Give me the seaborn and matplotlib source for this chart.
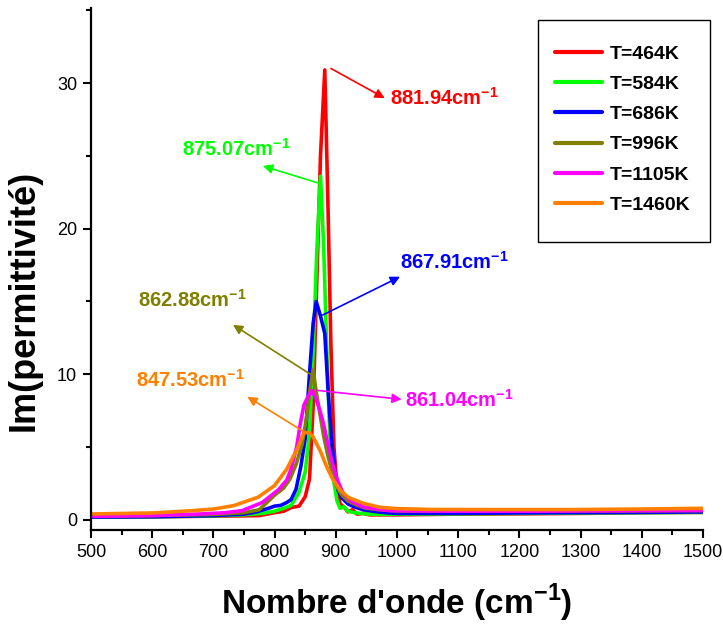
import numpy as np
import pandas as pd
import matplotlib
matplotlib.use("Agg")
import matplotlib.pyplot as plt
from matplotlib.ticker import MultipleLocator
from matplotlib.patches import Rectangle
import seaborn as sns

# ---------------- data ----------------
wn_464 = [500, 550, 600, 650, 700, 750, 775, 800, 815, 827, 840, 850, 857, 863, 869, 875, 882, 887, 892, 897, 902,
          907, 913, 920, 927, 935, 945, 955, 970, 1000, 1100, 1200, 1300, 1400, 1500]
eps_464 = [0.2, 0.2, 0.22, 0.24, 0.26, 0.28, 0.3, 0.5, 0.6, 0.85, 0.95, 1.6, 2.8, 7.8, 16.5, 25.0, 30.9, 22.0, 12.0, 5.0, 2.2,
           1.1, 0.9, 0.55, 0.7, 0.4, 0.45, 0.35, 0.35, 0.35, 0.4, 0.42, 0.45, 0.5, 0.52]

wn_584 = [500, 600, 700, 750, 780, 800, 815, 827, 840, 850, 857, 863, 869, 875, 880, 885, 890, 896, 902, 907, 913,
          920, 930, 940, 955, 980, 1000, 1100, 1200, 1300, 1400, 1500]
eps_584 = [0.2, 0.22, 0.28, 0.35, 0.45, 0.6, 0.8, 1.0, 1.9, 3.3, 6.0, 11.5, 18.5, 23.6, 19.0, 12.0, 6.0, 2.8, 1.3, 0.8, 0.9,
           0.6, 0.5, 0.45, 0.4, 0.38, 0.4, 0.42, 0.45, 0.48, 0.5, 0.52]

wn_686 = [500, 600, 700, 750, 770, 790, 800, 810, 820, 827, 835, 843, 850, 857, 863, 868, 875, 882, 888, 893, 898,
          904, 910, 920, 930, 945, 960, 980, 1000, 1100, 1200, 1300, 1400, 1500]
eps_686 = [0.2, 0.22, 0.3, 0.4, 0.55, 0.8, 0.95, 1.0, 1.2, 1.4, 2.1, 3.7, 5.6, 10.0, 13.5, 15.0, 14.0, 12.8, 8.5, 5.5, 3.5,
           2.0, 1.5, 1.1, 0.9, 0.7, 0.6, 0.5, 0.45, 0.45, 0.48, 0.5, 0.52, 0.55]

wn_996 = [500, 600, 700, 750, 775, 800, 815, 825, 835, 845, 852, 858, 863, 868, 874, 880, 886, 892, 900, 910, 920,
          935, 950, 970, 1000, 1100, 1200, 1300, 1400, 1500]
eps_996 = [0.25, 0.3, 0.38, 0.5, 0.7, 1.7, 2.2, 2.8, 3.8, 5.2, 7.0, 9.0, 10.3, 8.8, 7.3, 5.8, 4.6, 3.6, 2.4, 1.7, 1.3,
           1.0, 0.8, 0.7, 0.62, 0.6, 0.6, 0.62, 0.63, 0.65]

wn_1105 = [500, 600, 680, 720, 747, 780, 807, 820, 827, 836, 842, 848, 855, 861, 868, 874, 880, 888, 896, 904, 912,
           925, 945, 965, 987, 1020, 1100, 1200, 1300, 1400, 1500]
eps_1105 = [0.25, 0.3, 0.41, 0.5, 0.64, 1.2, 2.1, 2.75, 3.5, 5.0, 6.6, 7.9, 8.5, 8.9, 8.3, 7.5, 6.6, 5.0, 3.66, 2.6, 1.83,
            1.3, 0.9, 0.75, 0.64, 0.62, 0.6, 0.6, 0.62, 0.64, 0.65]

wn_1460 = [500, 600, 667, 700, 733, 773, 800, 820, 836, 848, 856, 863, 875, 885, 895, 907, 920, 945, 972, 1000, 1054,
           1150, 1280, 1400, 1500]
eps_1460 = [0.41, 0.48, 0.64, 0.75, 0.98, 1.56, 2.36, 3.5, 4.8, 6.0, 6.0, 5.7, 4.7, 3.66, 2.8, 2.06, 1.56, 1.14, 0.87,
            0.78, 0.72, 0.71, 0.71, 0.75, 0.8]

labels = ["T=464K", "T=584K", "T=686K", "T=996K", "T=1105K", "T=1460K"]
colors = ["#FF0000", "#00FF00", "#0000FF", "#808000", "#FF00FF", "#FF8000"]
peak_labels = ["881.94", "875.07", "867.91", "862.88", "861.04", "847.53"]

series = [(wn_464, eps_464), (wn_584, eps_584), (wn_686, eps_686),
          (wn_996, eps_996), (wn_1105, eps_1105), (wn_1460, eps_1460)]

frames = []
for lab, (w, e) in zip(labels, series):
    frames.append(pd.DataFrame({"wn": w, "eps": e, "T": lab}))
df = pd.concat(frames, ignore_index=True)

# ---------------- style ----------------
sns.set_theme(style="ticks")
plt.rcParams["font.family"] = ["Liberation Sans", "DejaVu Sans"]
plt.rcParams["mathtext.fontset"] = "custom"
plt.rcParams["mathtext.rm"] = "Liberation Sans"
plt.rcParams["mathtext.bf"] = "Liberation Sans:bold"
plt.rcParams["axes.linewidth"] = 1.6
for k in ["text.color", "axes.labelcolor", "xtick.color", "ytick.color", "axes.edgecolor"]:
    plt.rcParams[k] = "black"

W, H = 723, 632
fig = plt.figure(figsize=(W / 100, H / 100), dpi=100)
ax = fig.add_axes([91 / W, 102 / H, 612 / W, 522 / H])

sns.lineplot(data=df, x="wn", y="eps", hue="T", hue_order=labels,
             palette=dict(zip(labels, colors)), linewidth=2.6, ax=ax,
             sort=False, estimator=None)

ax.set_xlim(500, 1500)
ax.set_ylim(-0.69, 35.15)
ax.xaxis.set_major_locator(MultipleLocator(100))
ax.xaxis.set_minor_locator(MultipleLocator(50))
ax.yaxis.set_major_locator(MultipleLocator(10))
ax.yaxis.set_minor_locator(MultipleLocator(5))
ax.tick_params(which="major", direction="out", length=6, width=1.5, labelsize=13, pad=4)
ax.tick_params(which="minor", direction="out", length=3.5, width=1.5)
for s in ["top", "right"]:
    ax.spines[s].set_visible(False)

ax.set_xlabel(r"Nombre d'onde (cm$^{\mathbf{-1}}$)", fontsize=24, fontweight="bold", labelpad=15)
ax.set_ylabel("Im(permittivité)", fontsize=26, fontweight="bold")
ax.yaxis.set_label_coords(-0.08, 0.44)

# ---------------- annotations ----------------
arrows = [
    ((892, 31.0), (980, 28.96)),
    ((874, 23.1), (781, 24.3)),
    ((878.6, 14.07), (1005, 16.7)),
    ((860.6, 9.95), (732, 13.4)),
    ((868.8, 8.9), (1007.7, 8.28)),
    ((852, 5.95), (755.4, 8.46)),
]
texts = [
    ((988.6, 29.0), "left"),
    ((737, 25.5), "center"),
    ((1005, 17.7), "left"),
    ((665, 15.1), "center"),
    ((1013, 8.24), "left"),
    ((662, 9.6), "center"),
]
for c, pl, (tail, head), (pos, ha) in zip(colors, peak_labels, arrows, texts):
    ax.annotate("", xy=head, xytext=tail,
                arrowprops=dict(arrowstyle="-|>", color=c, lw=1.2, mutation_scale=14,
                                shrinkA=0, shrinkB=0))
    ax.text(pos[0], pos[1], pl + r"cm$^{\mathbf{-1}}$", color=c, fontsize=14.5,
            fontweight="bold", ha=ha, va="center")

# ---------------- legend ----------------
leg = ax.legend(loc="upper left", bbox_to_anchor=(555 / W, 1 - 45 / H),
                bbox_transform=fig.transFigure, borderaxespad=0, borderpad=0,
                frameon=False, prop={"weight": "bold", "size": 14}, handlelength=2.4,
                handletextpad=0.4, labelspacing=0.65, title=None)
for line in leg.get_lines():
    line.set_linewidth(3)
fig.patches.append(Rectangle((538 / W, 1 - 242 / H), 172 / W, 222 / H,
                             transform=fig.transFigure, fill=False,
                             edgecolor="black", linewidth=1.0, zorder=5))

fig.savefig("out.png", dpi=100)
